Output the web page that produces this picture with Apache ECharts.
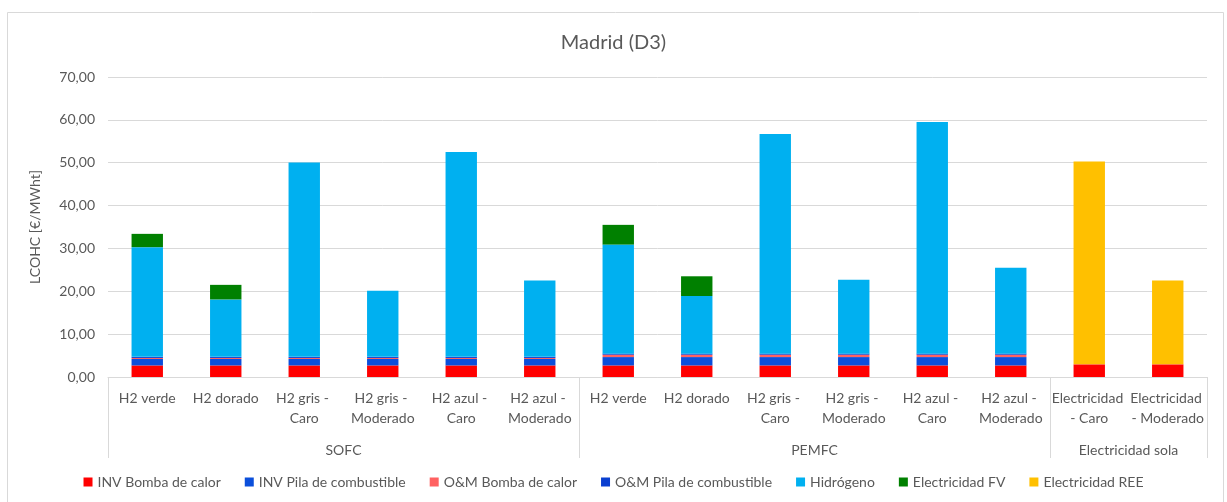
<!DOCTYPE html>
<html>
<head>
<meta charset="utf-8">
<script src="https://cdn.jsdelivr.net/npm/echarts@6/dist/echarts.min.js"></script>
<style>
  html, body { margin: 0; padding: 0; background: #ffffff; }
  #chart { width: 1227px; height: 502px; }
</style>
</head>
<body>
<div id="chart"></div>
<script>
// LCOHC cost breakdown for Madrid (D3), stacked by cost component
const categories = [
  'H2 verde', 'H2 dorado', 'H2 gris - Caro', 'H2 gris - Moderado', 'H2 azul - Caro', 'H2 azul - Moderado',
  'H2 verde', 'H2 dorado', 'H2 gris - Caro', 'H2 gris - Moderado', 'H2 azul - Caro', 'H2 azul - Moderado',
  'Electricidad - Caro', 'Electricidad - Moderado'
];
const groupNames = ['SOFC', 'PEMFC', 'Electricidad sola'];
const groupSizes = [6, 6, 2];

const invBomba   = [2.7, 2.7, 2.7, 2.7, 2.7, 2.7, 2.7, 2.7, 2.7, 2.7, 2.7, 2.7, 2.95, 2.95];
const invPila    = [1.5, 1.5, 1.5, 1.5, 1.5, 1.5, 1.95, 1.95, 1.95, 1.95, 1.95, 1.95, 0, 0];
const omBomba    = [0.25, 0.25, 0.25, 0.25, 0.25, 0.25, 0.55, 0.55, 0.55, 0.55, 0.55, 0.55, 0, 0];
const omPila     = [0.25, 0.25, 0.25, 0.25, 0.25, 0.25, 0.25, 0.25, 0.25, 0.25, 0.25, 0.25, 0, 0];
const hidrogeno  = [25.6, 13.4, 45.35, 15.4, 47.8, 17.8, 25.45, 13.45, 51.25, 17.25, 54.05, 20.05, 0, 0];
const elecFV     = [3.1, 3.4, 0, 0, 0, 0, 4.6, 4.6, 0, 0, 0, 0, 0, 0];
const elecREE    = [0, 0, 0, 0, 0, 0, 0, 0, 0, 0, 0, 0, 47.35, 19.55];

const yTicks = { min: 0, max: 70, interval: 10 };

const seriesDefs = [
  { name: 'INV Bomba de calor',        data: invBomba,  color: '#FF0000' },
  { name: 'INV Pila de combustible',   data: invPila,   color: '#0B4FDB' },
  { name: 'O&M Bomba de calor',        data: omBomba,   color: '#FF6161' },
  { name: 'O&M Pila de combustible',   data: omPila,    color: '#0A3FD0' },
  { name: 'Hidrógeno',                 data: hidrogeno, color: '#00B0F0' },
  { name: 'Electricidad FV',           data: elecFV,    color: '#008000' },
  { name: 'Electricidad REE',          data: elecREE,   color: '#FFC000' }
];

// group boundaries and centres on a 0..N value scale laid over the category axis
const bounds = [0];
groupSizes.forEach(n => bounds.push(bounds[bounds.length - 1] + n));
const centres = groupSizes.map((n, i) => bounds[i] + n / 2);

const FONT = 'Lato';
const TXT = '#595959';
const LINE = '#D9D9D9';

const chart = echarts.init(document.getElementById('chart'), null, { renderer: 'canvas' });

chart.setOption({
  animation: false,
  backgroundColor: '#ffffff',
  textStyle: { fontFamily: FONT },
  title: {
    text: 'Madrid (D3)',
    left: 'center',
    top: 28,
    textStyle: { fontFamily: FONT, fontSize: 20, fontWeight: 'normal', color: TXT }
  },
  graphic: [{
    type: 'rect',
    shape: { x: 7.5, y: 12.5, width: 1216, height: 500 },
    style: { fill: 'none', stroke: LINE, lineWidth: 1 },
    silent: true
  }],
  legend: {
    bottom: 8,
    left: 'center',
    itemWidth: 9,
    itemHeight: 9,
    itemGap: 24,
    icon: 'rect',
    textStyle: { fontFamily: FONT, fontSize: 14, color: TXT },
    data: seriesDefs.map(s => s.name)
  },
  grid: { left: 108, right: 20, top: 77, bottom: 125 },
  xAxis: [
    {
      type: 'category',
      data: categories,
      axisLine: { lineStyle: { color: LINE } },
      axisTick: { show: false },
      axisLabel: {
        interval: 0,
        margin: 11,
        width: 78,
        overflow: 'break',
        lineHeight: 20,
        fontFamily: FONT,
        fontSize: 14,
        color: TXT
      }
    },
    {
      type: 'value',
      position: 'bottom',
      min: 0,
      max: categories.length,
      axisLine: { show: false },
      splitLine: { show: false },
      axisTick: {
        show: true,
        inside: false,
        length: 81,
        customValues: bounds,
        lineStyle: { color: LINE }
      },
      axisLabel: {
        customValues: centres,
        margin: 66,
        fontFamily: FONT,
        fontSize: 14,
        color: TXT,
        formatter: v => groupNames[centres.indexOf(v)] || ''
      }
    }
  ],
  yAxis: {
    type: 'value',
    min: yTicks.min,
    max: yTicks.max,
    interval: yTicks.interval,
    name: 'LCOHC [€/MWht]',
    nameLocation: 'middle',
    nameGap: 66,
    nameTextStyle: { fontFamily: FONT, fontSize: 14, color: TXT },
    axisLine: { show: false },
    axisTick: { show: false },
    splitLine: { lineStyle: { color: LINE } },
    axisLabel: {
      margin: 13,
      fontFamily: FONT,
      fontSize: 14,
      color: TXT,
      formatter: v => v.toFixed(2).replace('.', ',')
    }
  },
  series: seriesDefs.map(s => ({
    name: s.name,
    type: 'bar',
    stack: 'total',
    xAxisIndex: 0,
    yAxisIndex: 0,
    barWidth: '40%',
    data: s.data,
    itemStyle: { color: s.color },
    emphasis: { disabled: true }
  }))
});
</script>
</body>
</html>
